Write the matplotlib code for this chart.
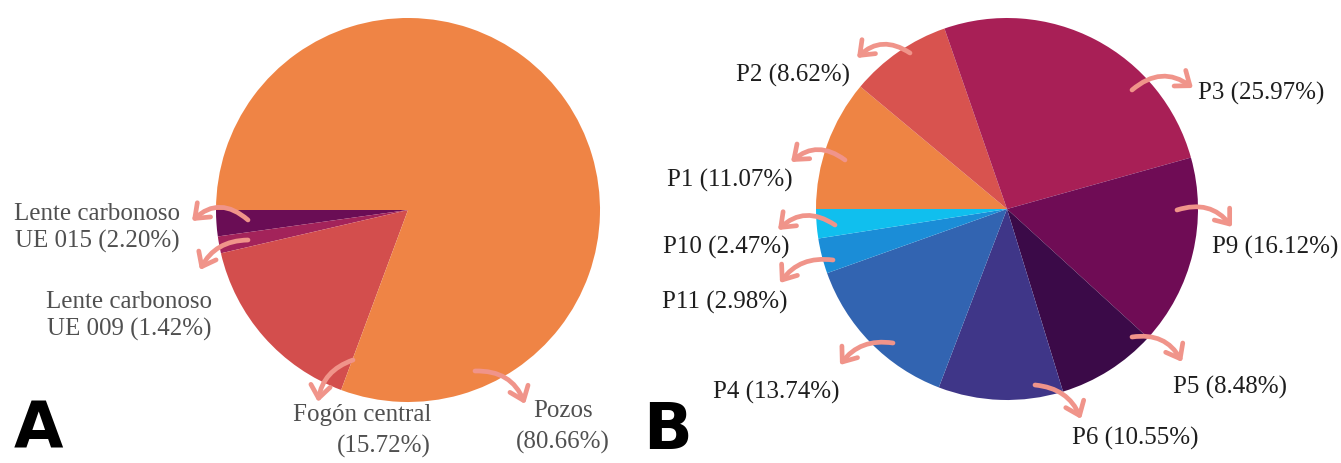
import matplotlib
matplotlib.use("Agg")
import matplotlib.pyplot as plt

W, H = 1341, 463

# ---- Data ----
a_labels = ["Lente carbonoso\nUE 015 (2.20%)", "Lente carbonoso\nUE 009 (1.42%)",
            "Fogón central\n(15.72%)", "Pozos\n(80.66%)"]
a_values = [2.20, 1.42, 15.72, 80.66]
a_colors = ["#6a0d55", "#a3235a", "#d34e4d", "#ef8445"]

b_labels = ["P1 (11.07%)", "P2 (8.62%)", "P3 (25.97%)", "P9 (16.12%)", "P5 (8.48%)",
            "P6 (10.55%)", "P4 (13.74%)", "P11 (2.98%)", "P10 (2.47%)"]
b_values = [11.07, 8.62, 25.97, 16.12, 8.48, 10.55, 13.74, 2.98, 2.47]
b_colors = ["#ee8444", "#d8534f", "#a81f56", "#6f0c55", "#3b0a48",
            "#3f3688", "#3264b1", "#1b8dd7", "#10bfee"]

# ---- Layout (pixel coords, y from top) ----
a_center, a_radius = (408, 210), 192
b_center, b_radius = (1007, 209), 191

# label: (text x, y, ha, arrow start, arrow end, rad, linespacing)
a_annot = [
    (97, 228, "center", (248, 220), (192, 221), 0.45, 1.3),
    (129, 316, "center", (248, 240), (200, 270), 0.3, 1.3),
    (431, 431, "right", (353, 360), (318, 402), 0.3, 1.55),
    (563, 427, "center", (475, 371), (525, 404), -0.35, 1.5),
]
b_annot = [
    (730, 180, "center", (845, 160), (791, 162), 0.4, 1.2),
    (793, 75, "center", (910, 53), (857, 58), 0.4, 1.2),
    (1261, 93, "center", (1132, 90), (1193, 88), -0.4, 1.2),
    (1275, 247, "center", (1177, 210), (1232, 227), -0.35, 1.2),
    (1230, 387, "center", (1132, 337), (1182, 362), -0.35, 1.2),
    (1135, 438, "center", (1035, 385), (1081, 419), -0.3, 1.2),
    (776, 392, "center", (893, 343), (840, 365), 0.3, 1.2),
    (725, 302, "center", (833, 260), (780, 283), 0.3, 1.2),
    (726, 247, "center", (835, 225), (778, 230), 0.4, 1.2),
]

fig = plt.figure(figsize=(W / 100, H / 100), dpi=100)
ax = fig.add_axes([0, 0, 1, 1])

def fy(y):
    return H - y

ax.pie(a_values, colors=a_colors, startangle=180, counterclock=True,
       center=(a_center[0], fy(a_center[1])), radius=a_radius,
       wedgeprops=dict(linewidth=0), frame=False)
ax.pie(b_values, colors=b_colors, startangle=180, counterclock=False,
       center=(b_center[0], fy(b_center[1])), radius=b_radius,
       wedgeprops=dict(linewidth=0), frame=False)
ax.set_xlim(0, W)
ax.set_ylim(0, H)
ax.set_aspect("equal")
ax.axis("off")

arrow_col = "#f0948a"
serif = ["Liberation Serif", "DejaVu Serif"]

def annotate(labels, annots, color):
    for lab, (tx, ty, ha, s, e, rad, ls) in zip(labels, annots):
        ax.annotate("", xy=(e[0], fy(e[1])), xytext=(s[0], fy(s[1])),
                    arrowprops=dict(arrowstyle="->,head_length=0.45,head_width=0.35",
                                    color=arrow_col, lw=3.4, mutation_scale=20,
                                    connectionstyle=f"arc3,rad={rad}",
                                    shrinkA=0, shrinkB=0, capstyle="round"))
        ax.text(tx, fy(ty), lab, ha=ha, va="center", multialignment=ha,
                fontsize=18, family=serif, color=color, linespacing=ls)

annotate(a_labels, a_annot, "#505050")
annotate(b_labels, b_annot, "#1e1e1e")

ax.text(14, fy(462), "A", fontsize=46, fontweight="heavy", family="DejaVu Sans",
        ha="left", va="bottom", color="black")
ax.text(643, fy(462), "B", fontsize=46, fontweight="heavy", family="DejaVu Sans",
        ha="left", va="bottom", color="black")

fig.savefig("out.png", dpi=100, facecolor="white")
